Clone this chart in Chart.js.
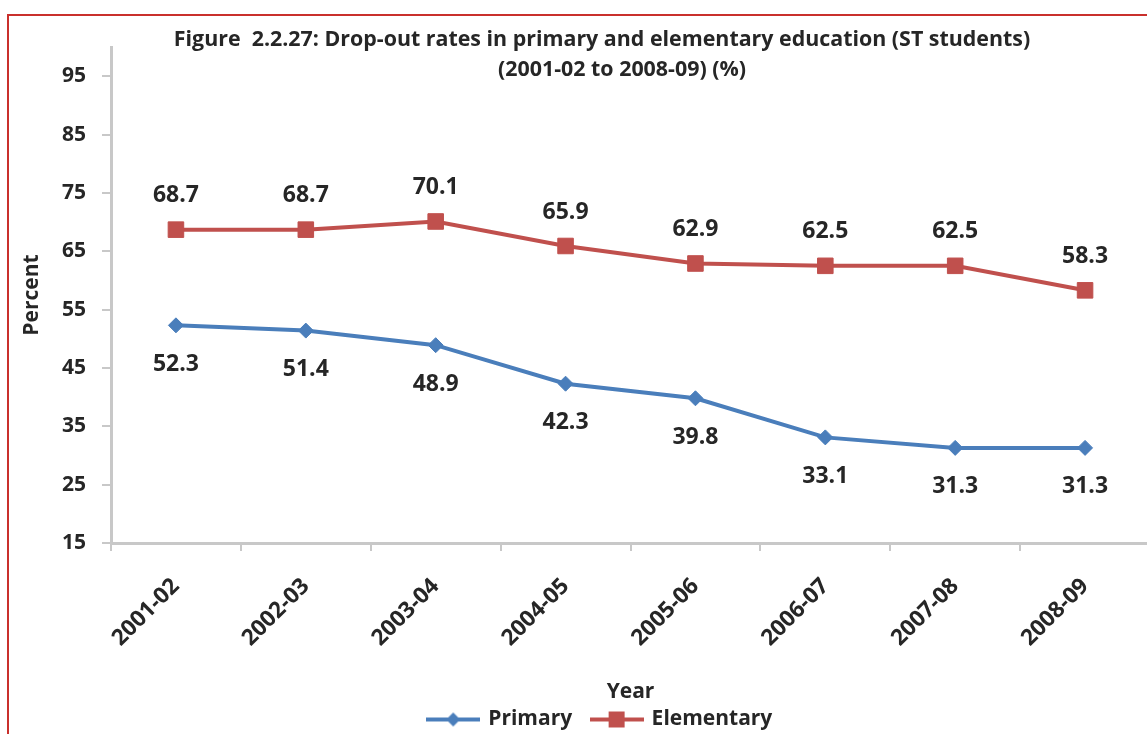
<!DOCTYPE html>
<html>
<head>
<meta charset="utf-8">
<title>Drop-out rates in primary and elementary education (ST students)</title>
<script src="https://cdn.jsdelivr.net/npm/chart.js@4.4.1/dist/chart.umd.min.js"></script>
<style>
    html, body { margin: 0; padding: 0; background: #fff; overflow: hidden; width: 1147px; height: 734px; }
    #frame { position: absolute; left: 7px; top: 14px; width: 1200px; height: 800px; border: 2px solid #c9302c; box-sizing: border-box; }
    #wrap { position: absolute; left: 0; top: 0; width: 1150px; height: 744px; }
</style>
</head>
<body>
<div id="frame"></div>
<div id="wrap"><canvas id="chartDropout" width="1150" height="744"></canvas></div>
<script>
// data
const YEARS = ["2001-02", "2002-03", "2003-04", "2004-05", "2005-06", "2006-07", "2007-08", "2008-09"];
const PRIMARY = [52.3, 51.4, 48.9, 42.3, 39.8, 33.1, 31.3, 31.3];
const ELEMENTARY = [68.7, 68.7, 70.1, 65.9, 62.9, 62.5, 62.5, 58.3];
const Y_TICKS = [15, 25, 35, 45, 55, 65, 75, 85, 95];
const TITLE_LINES = [
    "Figure  2.2.27: Drop-out rates in primary and elementary education (ST students)",
    "(2001-02 to 2008-09) (%)"
];

(function (window, document) {
    "use strict";

    const FONT = "'Open Sans', Lato, sans-serif";
    const INK = "#262626";
    const AXIS = "#c8c8c8";
    const BLUE = "#4a7ebb";
    const RED = "#c0504d";

    const bold = (size) => ({ family: FONT, size: size, weight: "bold" });

    /* ---------------- Legend swatches (line + marker, Excel style) ---------------- */
    function legendMarker(color, shape) {
        const c = document.createElement("canvas");
        c.width = 54; c.height = 20;
        const g = c.getContext("2d");
        g.strokeStyle = color;
        g.lineWidth = 4;
        g.beginPath(); g.moveTo(0, 10); g.lineTo(54, 10); g.stroke();
        g.fillStyle = color;
        g.beginPath();
        if (shape === "diamond") {
            g.moveTo(27, 3); g.lineTo(34, 10); g.lineTo(27, 17); g.lineTo(20, 10); g.closePath();
        } else {
            g.rect(19, 2, 16, 16);
        }
        g.fill();
        return c;
    }
    const MARKERS = [legendMarker(BLUE, "diamond"), legendMarker(RED, "square")];

    /* ---------------- Plugins ---------------- */
    const titlePlugin = {
        id: "overlayTitle",
        afterDraw(chart) {
            const ctx = chart.ctx;
            ctx.save();
            ctx.font = `bold 21.4px ${FONT}`;
            ctx.fillStyle = INK;
            ctx.textAlign = "center";
            ctx.textBaseline = "middle";
            ctx.fillText(TITLE_LINES[0], 602, 40);
            ctx.fillText(TITLE_LINES[1], 622, 70);
            ctx.restore();
        }
    };

    const valueLabels = {
        id: "valueLabels",
        afterDatasetsDraw(chart) {
            const ctx = chart.ctx;
            ctx.save();
            ctx.font = `bold 23px ${FONT}`;
            ctx.fillStyle = INK;
            ctx.textAlign = "center";
            ctx.textBaseline = "middle";
            chart.data.datasets.forEach((ds, i) => {
                const off = i === 0 ? 39 : -34;   // primary below, elementary above
                chart.getDatasetMeta(i).data.forEach((pt, j) => {
                    ctx.fillText(ds.data[j].toFixed(1), pt.x, pt.y + off);
                });
            });
            ctx.restore();
        }
    };

    // legend sits a little right of canvas centre in the original
    const legendShift = {
        id: "legendShift",
        afterLayout(chart) {
            if (!chart.legend) return;
            chart.legend.left += 17;
            chart.legend.right += 17;
        }
    };

    /* ---------------- Chart ---------------- */
    const canvas = document.getElementById("chartDropout");
    new Chart(canvas.getContext("2d"), {
        type: "line",
        data: {
            labels: YEARS,
            datasets: [
                {
                    label: "Primary",
                    data: PRIMARY,
                    borderColor: BLUE,
                    backgroundColor: BLUE,
                    borderWidth: 4,
                    pointStyle: "rectRot",
                    pointRadius: 7.5,
                    pointBorderWidth: 1,
                    tension: 0
                },
                {
                    label: "Elementary",
                    data: ELEMENTARY,
                    borderColor: RED,
                    backgroundColor: RED,
                    borderWidth: 4,
                    pointStyle: "rect",
                    pointRadius: 11,
                    pointBorderWidth: 1,
                    tension: 0
                }
            ]
        },
        options: {
            responsive: false,
            animation: false,
            devicePixelRatio: 1,
            layout: { autoPadding: false, padding: { left: 17, top: 47, right: 0, bottom: 4 } },
            plugins: {
                title: { display: false },
                tooltip: { enabled: false },
                legend: {
                    position: "bottom",
                    labels: {
                        usePointStyle: true,
                        pointStyleWidth: 49,
                        padding: 20,
                        color: INK,
                        font: bold(21),
                        generateLabels: (chart) => chart.data.datasets.map((ds, i) => ({
                            text: ds.label,
                            pointStyle: MARKERS[i],
                            fillStyle: ds.borderColor,
                            strokeStyle: ds.borderColor,
                            lineWidth: 0,
                            hidden: false,
                            datasetIndex: i,
                            fontColor: INK
                        }))
                    }
                }
            },
            scales: {
                x: {
                    offset: true,
                    grid: { offset: true, drawOnChartArea: false, tickLength: 8, color: AXIS, lineWidth: 2 },
                    border: { display: true, color: AXIS, width: 3 },
                    ticks: { autoSkip: false, minRotation: 45, maxRotation: 45, padding: 22, color: INK, font: bold(22.5) },
                    title: { display: true, text: "Year", color: INK, font: bold(21), padding: { top: 4, bottom: -16 } },
                    afterFit: (s) => {
                        s.height = 146;
                        // rotated labels would otherwise pull the plot in from the right edge
                        s.paddingLeft = 0;
                        s.paddingRight = 0;
                    }
                },
                y: {
                    min: 15,
                    max: 100,
                    afterBuildTicks: (s) => { s.ticks = Y_TICKS.map(v => ({ value: v })); },
                    grid: { drawOnChartArea: false, tickLength: 9, color: AXIS, lineWidth: 2 },
                    border: { display: true, color: AXIS, width: 3 },
                    ticks: { padding: 16, color: INK, font: bold(21) },
                    title: { display: true, text: "Percent", color: INK, font: bold(21), padding: { top: 2, bottom: 4 } },
                    afterFit: (s) => { s.width = 94; }
                }
            }
        },
        plugins: [titlePlugin, valueLabels, legendShift]
    });
})(window, document);
</script>
</body>
</html>
